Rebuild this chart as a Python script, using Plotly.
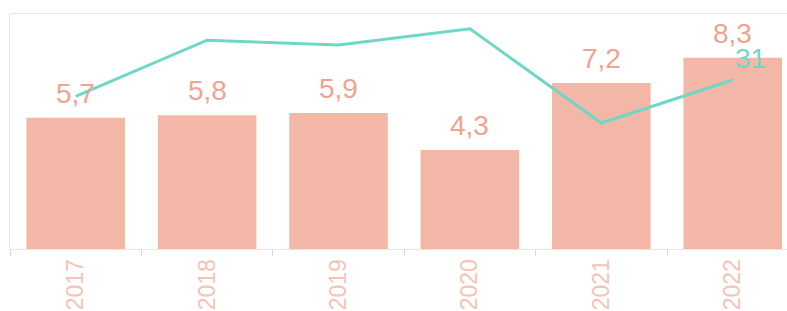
import plotly.graph_objects as go

years = ["2017", "2018", "2019", "2020", "2021", "2022"]
bar_values = [5.7, 5.8, 5.9, 4.3, 7.2, 8.3]
line_values = [28, 38.3, 37.4, 40.4, 23.1, 31]
line_label_index = 5

BAR_COLOR = "#F3B7A7"
LABEL_COLOR = "#EFA390"
LINE_COLOR = "#6FD8C5"
TICK_COLOR = "#F5C4B6"

fig = go.Figure()
fig.add_trace(go.Bar(
    x=years, y=bar_values, marker=dict(color=BAR_COLOR, line=dict(width=0)),
    width=0.75, yaxis="y", showlegend=False, hoverinfo="skip",
))
fig.add_trace(go.Scatter(
    x=years, y=line_values, mode="lines", yaxis="y2",
    line=dict(color=LINE_COLOR, width=3), showlegend=False, hoverinfo="skip",
))

annotations = []
for i, v in enumerate(bar_values):
    annotations.append(dict(
        x=i, y=v, xref="x", yref="y", text=f"{v:.1f}".replace(".", ","),
        showarrow=False, yanchor="bottom", yshift=7,
        font=dict(family="Liberation Sans, Arial", size=28, color=LABEL_COLOR),
    ))
annotations.append(dict(
    x=line_label_index, y=line_values[line_label_index], xref="x", yref="y2",
    text=f"{line_values[line_label_index]:g}", showarrow=False,
    xshift=18, yshift=21,
    font=dict(family="Liberation Sans, Arial", size=28, color=LINE_COLOR),
))

fig.update_layout(
    width=787, height=311,
    margin=dict(l=10, r=0, t=14, b=62, autoexpand=False),
    paper_bgcolor="white", plot_bgcolor="white",
    annotations=annotations,
    xaxis=dict(
        type="category",
        range=[-0.5, 5.413], showgrid=False, zeroline=False,
        showline=True, linecolor="#E6E6E6", linewidth=1, mirror=True,
        ticks="outside", tickson="boundaries", ticklen=6, tickcolor="#D8D8D8",
        tickangle=-90, automargin=False,
        tickfont=dict(family="Liberation Sans, Arial", size=23, color=TICK_COLOR),
    ),
    yaxis=dict(
        range=[0, 10.2], showgrid=False, zeroline=False, showticklabels=False,
        showline=True, linecolor="#E6E6E6", linewidth=1, ticks="",
    ),
    yaxis2=dict(
        range=[0, 43.1], overlaying="y", side="right", showgrid=False,
        zeroline=False, showticklabels=False, showline=False, ticks="",
    ),
    bargap=0.25,
)

fig.write_html(
    "out.html",
    config={"displayModeBar": False},
    post_script="document.body.style.margin='0';document.body.style.overflow='hidden';",
)
